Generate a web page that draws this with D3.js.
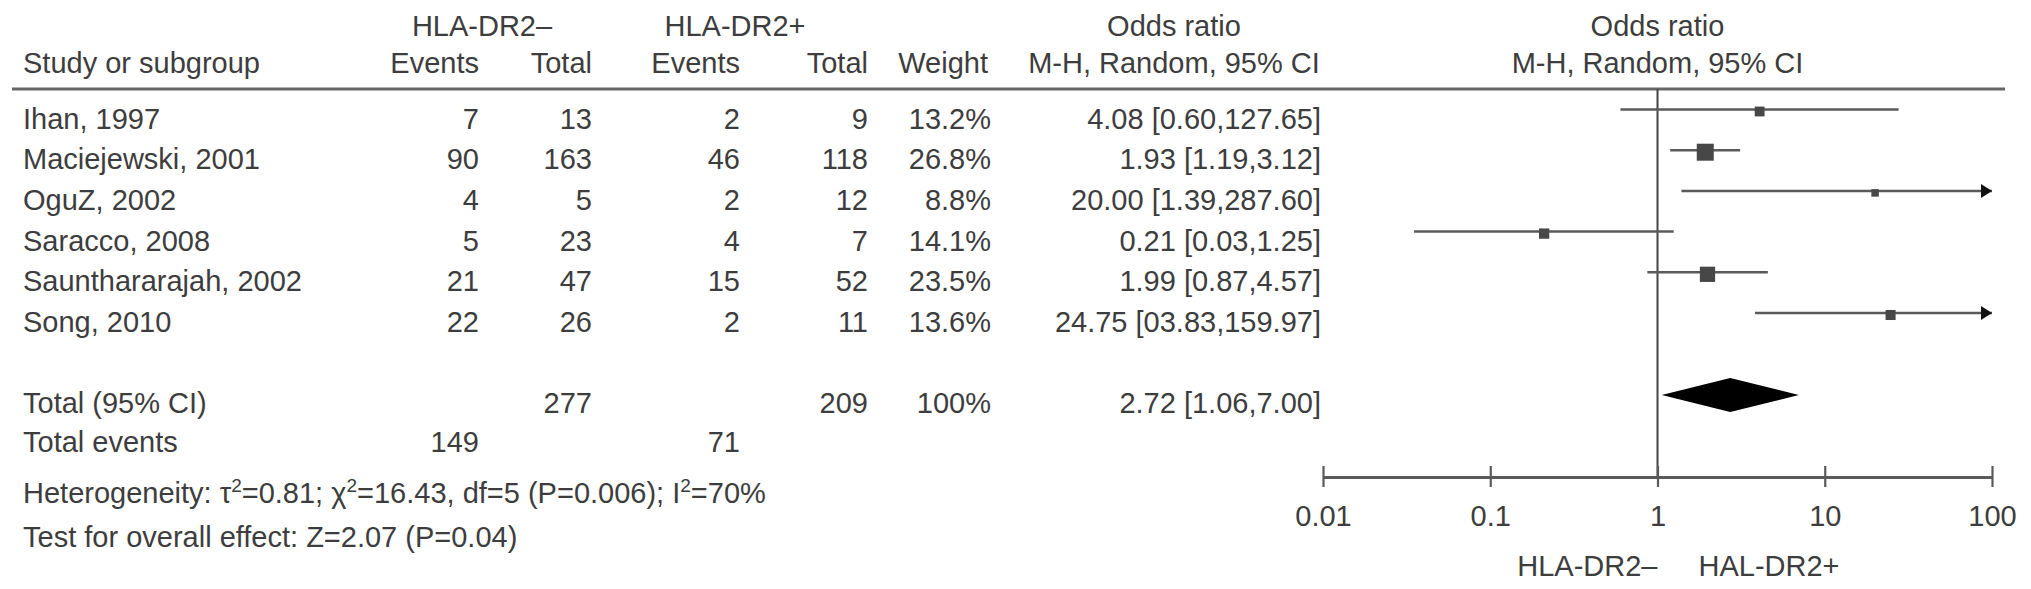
<!DOCTYPE html>
<html><head><meta charset="utf-8">
<script src="https://cdn.jsdelivr.net/npm/d3@7"></script>
<style>
html,body{margin:0;padding:0;background:#fff;}
text{font-family:"Liberation Sans",Arial,Helvetica,sans-serif;font-size:29px;fill:#3d3d3d;}
</style></head>
<body>
<svg id="chart" width="2031" height="589"></svg>
<script>
// ---- data ----
const studies = ["Ihan, 1997","Maciejewski, 2001","OguZ, 2002","Saracco, 2008","Saunthararajah, 2002","Song, 2010"];
const eventsNeg = [7, 90, 4, 5, 21, 22];
const totalNeg = [13, 163, 5, 23, 47, 26];
const eventsPos = [2, 46, 2, 4, 15, 2];
const totalPos = [9, 118, 12, 7, 52, 11];
const weights = [13.2, 26.8, 8.8, 14.1, 23.5, 13.6];
const orValues = [4.08, 1.93, 20.00, 0.21, 1.99, 24.75];
const ciLow = [0.60, 1.19, 1.39, 0.035, 0.87, 3.83];
const ciHigh = [27.65, 3.12, 287.60, 1.25, 4.57, 159.97];
const orLabels = ["4.08 [0.60,127.65]","1.93 [1.19,3.12]","20.00 [1.39,287.60]","0.21 [0.03,1.25]","1.99 [0.87,4.57]","24.75 [03.83,159.97]"];
const pooled = [2.72, 1.06, 7.00];
const pooledLabel = "2.72 [1.06,7.00]";
const totals = [277, 209];
const totalWeight = "100%";
const totalEvents = [149, 71];
const tickValues = [0.01, 0.1, 1, 10, 100];
const tickLabels = ["0.01","0.1","1","10","100"];

// ---- layout ----
const svg = d3.select("#chart");
const x = d3.scaleLog().domain([0.01, 100]).range([1323, 1992]);
const yRow = d3.scaleLinear().domain([0, 5]).range([109.5, 313]);
const textOff = 19;
const sq = d3.scaleLinear().domain([8.8, 26.8]).range([7.5, 17]);
const yTop = 89, yAxis = 477, yPooled = 395;
const ink = "#3d3d3d", lineC = "#5a5a5a";

function txt(str, xx, yy, anchor) {
  return svg.append("text").attr("x", xx).attr("y", yy).attr("text-anchor", anchor || "start").text(str);
}

// headers
txt("HLA-DR2\u2013", 482, 36, "middle");
txt("HLA-DR2+", 735, 36, "middle");
txt("Odds ratio", 1174, 36, "middle");
txt("Odds ratio", x(1), 36, "middle");
txt("Study or subgroup", 23, 73);
txt("Events", 479, 73, "end");
txt("Total", 592, 73, "end");
txt("Events", 740, 73, "end");
txt("Total", 868, 73, "end");
txt("Weight", 988, 73, "end");
txt("M-H, Random, 95% CI", 1174, 73, "middle");
txt("M-H, Random, 95% CI", x(1), 73, "middle");

svg.append("line").attr("x1", 12).attr("x2", 2005).attr("y1", yTop).attr("y2", yTop)
  .attr("stroke", "#666").attr("stroke-width", 3);

// study rows
studies.forEach((s, i) => {
  const ty = yRow(i) + textOff;
  txt(s, 23, ty);
  txt(eventsNeg[i], 479, ty, "end");
  txt(totalNeg[i], 592, ty, "end");
  txt(eventsPos[i], 740, ty, "end");
  txt(totalPos[i], 868, ty, "end");
  txt(weights[i].toFixed(1) + "%", 991, ty, "end");
  txt(orLabels[i], 1321, ty, "end");
});

// totals
txt("Total (95% CI)", 23, 413);
txt(totals[0], 592, 413, "end");
txt(totals[1], 868, 413, "end");
txt(totalWeight, 991, 413, "end");
txt(pooledLabel, 1321, 413, "end");
txt("Total events", 23, 452);
txt(totalEvents[0], 479, 452, "end");
txt(totalEvents[1], 740, 452, "end");

// heterogeneity
const het = svg.append("text").attr("x", 23).attr("y", 503);
het.append("tspan").text("Heterogeneity: \u03C4");
het.append("tspan").attr("dy", -11).attr("font-size", 19).text("2");
het.append("tspan").attr("dy", 11).text("=0.81; \u03C7");
het.append("tspan").attr("dy", -11).attr("font-size", 19).text("2");
het.append("tspan").attr("dy", 11).text("=16.43, df=5 (P=0.006); I");
het.append("tspan").attr("dy", -11).attr("font-size", 19).text("2");
het.append("tspan").attr("dy", 11).text("=70%");
txt("Test for overall effect: Z=2.07 (P=0.04)", 23, 547);

// forest plot
svg.append("line").attr("x1", x(1)).attr("x2", x(1)).attr("y1", yTop).attr("y2", yAxis)
  .attr("stroke", "#444").attr("stroke-width", 2);

const dom = x.domain();
studies.forEach((s, i) => {
  const y0 = yRow(i);
  const lo = Math.max(ciLow[i], dom[0]), hi = Math.min(ciHigh[i], dom[1]);
  svg.append("line").attr("x1", x(lo)).attr("x2", x(hi)).attr("y1", y0).attr("y2", y0)
    .attr("stroke", lineC).attr("stroke-width", 2.5);
  if (ciHigh[i] > dom[1]) {
    const xe = x(dom[1]);
    svg.append("path").attr("d", `M${xe},${y0} L${xe-11},${y0-7} L${xe-11},${y0+7} Z`).attr("fill", "#111");
  }
  if (ciLow[i] < dom[0]) {
    const xs = x(dom[0]);
    svg.append("path").attr("d", `M${xs},${y0} L${xs+11},${y0-7} L${xs+11},${y0+7} Z`).attr("fill", "#111");
  }
  const s2 = sq(weights[i]);
  svg.append("rect").attr("x", x(orValues[i]) - s2/2).attr("y", y0 - s2/2 + 2)
    .attr("width", s2).attr("height", s2).attr("fill", "#474747");
});

// pooled diamond
svg.append("path")
  .attr("d", `M${x(pooled[1])},${yPooled} L${x(pooled[0])},${yPooled-17} L${x(pooled[2])},${yPooled} L${x(pooled[0])},${yPooled+17} Z`)
  .attr("fill", "#000");

// axis
const axis = d3.axisBottom(x).tickValues(tickValues).tickFormat((d, i) => tickLabels[i]).tickSize(0).tickPadding(0);
const ag = svg.append("g").attr("transform", `translate(0,${yAxis})`).call(axis);
ag.select(".domain").attr("stroke", lineC).attr("stroke-width", 2.8);
ag.selectAll(".tick line").remove();
ag.selectAll(".tick").append("line").attr("y1", -11).attr("y2", 10).attr("stroke", lineC).attr("stroke-width", 2.2);
ag.selectAll(".tick text").attr("y", 49).attr("dy", null)
  .style("font-family", "\"Liberation Sans\",Arial,sans-serif").style("font-size", "29px").attr("fill", ink);

txt("HLA-DR2\u2013", x(1), 576, "end");
txt("HAL-DR2+", x(1) + 41, 576, "start");
</script>
</body></html>
